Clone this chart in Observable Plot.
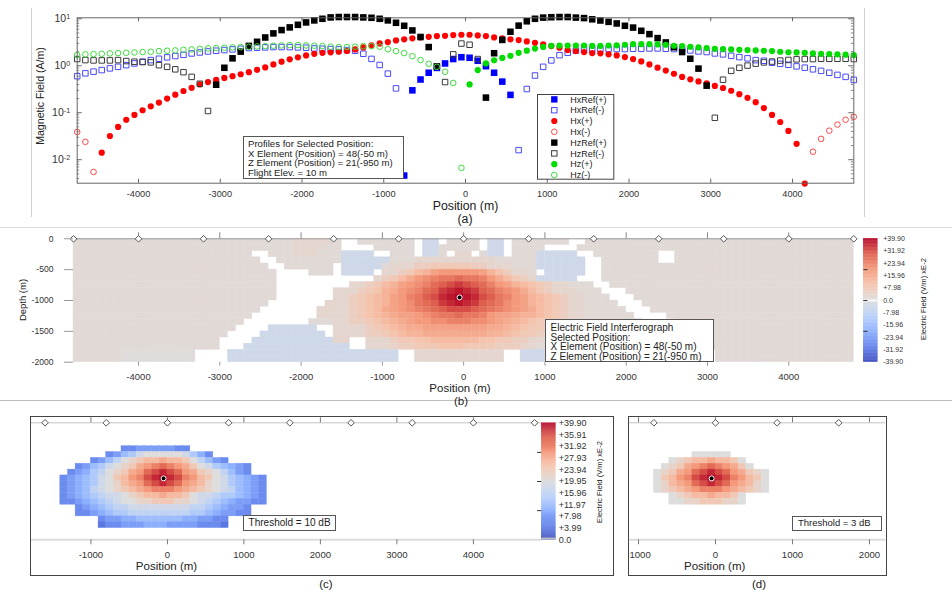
<!DOCTYPE html>
<html><head><meta charset="utf-8">
<script src="https://cdn.jsdelivr.net/npm/d3@7"></script>
<script src="https://cdn.jsdelivr.net/npm/@observablehq/plot@0.6"></script>
<style>
html,body{margin:0;padding:0;background:#fff;}
#page{position:relative;width:952px;height:594px;overflow:hidden;background:#fff;font-family:"Liberation Sans",Arial,Helvetica,sans-serif;color:#222;}
.t{position:absolute;white-space:nowrap;line-height:1;}
.box{position:absolute;box-sizing:border-box;background:#fff;border:1px solid #555;white-space:nowrap;color:#222;}
</style></head>
<body><div id="page"></div>
<script>
// ---------------- DATA ----------------
const positions = [-4750,-4650,-4550,-4450,-4350,-4250,-4150,-4050,-3950,-3850,-3750,-3650,-3550,-3450,-3350,-3250,-3150,-3050,-2950,-2850,-2750,-2650,-2550,-2450,-2350,-2250,-2150,-2050,-1950,-1850,-1750,-1650,-1550,-1450,-1350,-1250,-1150,-1050,-950,-850,-750,-650,-550,-450,-350,-250,-150,-50,50,150,250,350,450,550,650,750,850,950,1050,1150,1250,1350,1450,1550,1650,1750,1850,1950,2050,2150,2250,2350,2450,2550,2650,2750,2850,2950,3050,3150,3250,3350,3450,3550,3650,3750,3850,3950,4050,4150,4250,4350,4450,4550,4650,4750];

// signed values: negative => "(-)" open marker, positive => "(+)" filled marker
const hxRef = [-0.60,-0.69,-0.75,-0.81,-0.88,-0.95,-1.03,-1.12,-1.22,-1.32,
 -1.41,-1.51,-1.61,-1.71,-1.83,-1.92,-2.02,-2.09,-2.16,-2.23,
 -2.30,-2.38,-2.42,-2.46,-2.50,-2.50,-2.50,-2.46,-2.42,-2.34,
 -2.30,-2.27,-2.23,-2.16,-2.09,-1.80,-1.40,-1.04,-0.68,-0.33,
 0.0046,0.30,0.51,0.71,0.90,1.12,1.39,1.52,1.48,1.28,
 0.98,0.71,0.46,0.24,-0.016,-0.32,-0.62,-0.95,-1.30,-1.68,
 -1.89,-2.10,-2.20,-2.23,-2.27,-2.27,-2.27,-2.27,-2.30,-2.30,
 -2.34,-2.34,-2.30,-2.27,-2.23,-2.12,-2.02,-1.96,-1.83,-1.75,
 -1.63,-1.53,-1.44,-1.32,-1.28,-1.16,-1.10,-1.05,-0.97,-0.91,
 -0.84,-0.78,-0.71,-0.64,-0.58,-0.50];
const hx = [-0.039,-0.024,-0.0055,0.0141,0.032,0.050,0.071,0.090,0.113,0.137,
 0.165,0.20,0.242,0.29,0.34,0.40,0.45,0.50,0.55,0.60,
 0.66,0.73,0.82,0.92,1.07,1.22,1.37,1.51,1.66,1.80,
 1.89,1.93,1.99,2.06,2.23,2.46,2.71,2.99,3.19,3.47,
 3.65,3.83,4.02,4.14,4.28,4.35,4.50,4.57,4.57,4.43,
 4.28,4.02,3.83,3.65,3.52,3.30,3.08,2.85,2.62,2.42,
 2.16,2.05,1.96,1.86,1.84,1.75,1.66,1.53,1.39,1.24,
 1.07,0.91,0.79,0.676,0.58,0.515,0.465,0.42,0.372,0.336,
 0.294,0.248,0.208,0.168,0.126,0.090,0.0635,0.041,0.0218,0.0031,
 -0.0148,-0.0278,-0.0415,-0.056,-0.071,-0.082];
const hzRef = [-1.39,-1.32,-1.30,-1.30,-1.30,-1.32,-1.26,-1.22,-1.20,-1.18,
 -1.03,-0.95,-0.84,-0.73,-0.58,-0.414,-0.109,0.395,0.906,1.44,
 2.0,2.65,3.24,4.0,4.89,5.75,6.56,7.45,8.37,9.25,
 10.0,10.7,10.9,10.9,10.9,10.7,10.5,10.0,9.25,8.22,
 7.1,5.66,4.1,2.5,0.97,-0.45,-1.75,-2.97,-2.8,-1.39,
 0.21,1.85,3.55,5.3,7.15,8.85,10.0,10.6,10.8,10.9,
 10.9,10.6,10.35,9.75,9.2,8.6,7.96,7.1,6.5,5.55,
 4.72,3.88,3.14,2.48,1.96,1.41,0.87,0.377,-0.078,-0.505,
 -0.78,-0.906,-1.01,-1.11,-1.18,-1.23,-1.29,-1.33,-1.37,-1.39,
 -1.39,-1.41,-1.41,-1.41,-1.41,-1.39];
const hz = [-1.69,-1.75,-1.77,-1.80,-1.83,-1.86,-1.89,-1.92,-1.96,-1.99,
 -2.05,-2.09,-2.12,-2.19,-2.23,-2.30,-2.34,-2.38,-2.42,-2.46,
 -2.50,-2.54,-2.58,-2.62,-2.67,-2.71,-2.76,-2.76,-2.71,-2.67,
 -2.62,-2.54,-2.50,-2.50,-2.54,-2.62,-2.62,-2.54,-2.25,-2.05,
 -1.86,-1.60,-1.32,-1.10,-0.95,-0.745,-0.43,-0.0067,0.40,0.81,
 1.12,1.31,1.47,1.63,1.89,2.10,2.32,2.52,2.67,2.69,
 2.70,2.70,2.70,2.65,2.65,2.70,2.72,2.80,2.88,2.88,
 2.88,2.85,2.80,2.67,2.62,2.54,2.46,2.38,2.30,2.27,
 2.23,2.19,2.16,2.12,2.09,2.05,1.99,1.94,1.92,1.89,
 1.83,1.80,1.77,1.75,1.72,1.69];

const xTicks = [-4000,-3000,-2000,-1000,0,1000,2000,3000,4000];
const majorA = [0.01,0.1,1,10];
const stations = [-4800,-4000,-3200,-2400,-1600,-800,0,800,1600,2400,3200,4000,4800];
const depthTicks = [0,-500,-1000,-1500,-2000];
const depthCenters = [-50,-150,-250,-350,-450,-550,-650,-750,-850,-950,-1050,-1150,-1250,-1350,-1450,-1550,-1650,-1750,-1850,-1950];

// field grid (columns = positions, rows = depthCenters), one code per cell
const levelValue = {".":null,"B":-4,"z":0.6,"a":1.5,"y":3,"b":4,"c":6,"d":8,"e":10,"f":12,"g":14,"h":16,"i":18,"j":20,"k":22,"l":24,"m":26,"n":28,"o":30,"p":32,"q":34,"r":36,"s":38,"t":39.9};
const A12 = "aaaaaaaaaaaa";
const fieldRows = [
 [A12, A12, "aaayyyyya..a", "aaaaaa.BB.aa", "aa.BB.aaaaaa", "a..aaaaaaaaa", A12, A12],
 [A12, A12, "aaayyyyaa...", ".aaaaa.BBaaa", "aa.BB.aaaa..", "..aaaaaaaaaa", A12, A12],
 [A12, "aaaaaaaaaa..", "aaayyyaaaBBB", "B..aaa.BBa.y", "y.aBB.aaaBBB", "BB..aaaaaaaa", "..aaaaaaaaaa", A12],
 [A12, "aaaaaaaaaaa.", ".aaaaaaaaBBB", "BBBaaayyyyyy", "yyyyaaaaaBBB", "BBB..aaaaaaa", "..aaaaaaaaaa", A12],
 [A12, A12, "..aaaaaa.BBB", "BBayyyccdddd", "dccyyyaaaBBB", "BBB..aaaaaaa", A12, A12],
 [A12, A12, "a....aaa.BBB", "B.yycdfgijjj", "jjigecyya.BB", "BBB..aaaaaaa", A12, A12],
 [A12, A12, "a...........", ".ycdfhjklmmn", "mmljhfdcyBBB", "BB...aaaaaaa", A12, A12],
 [A12, A12, "a.........yy", "cdfgijklnopq", "ponljigfedcy", "yaaa..aaaaaa", A12, A12],
 [A12, A12, "a.......yyyc", "deghjklnoqrs", "rqonlkjhfdcy", "yyaaa...aaaa", A12, A12],
 [A12, A12, "a.......yycd", "efgijlmoprst", "srpomljigfed", "cyyaaa...aaa", A12, A12],
 [A12, A12, ".......yyycd", "efgijkmnoqrs", "rqonmkjigfed", "cyyaaaa...aa", A12, A12],
 [A12, "aaaaaaaaaaa.", "......yyyycd", "efhijklmnopp", "ponmlkjihfed", "cyyaaaaa...a", A12, A12],
 [A12, "aaaaaaaaaa..", "......yyyycd", "efghiijklmmn", "mmljiihggfed", "cyyaaaaaa...", ".aaaaaaaaaaa", A12],
 [A12, "aaaaaaaaa...", ".....aaayycc", "defghijjkkll", "lkkjihgfeddc", "cyyaaaaaaa..", "..aaaaaaaaaa", A12],
 [A12, "aaaaaaaa....", "BBBBBB..yyyy", "cdefghhiiiii", "iiihhgfeddcy", "yyaaaaaaaaaa", A12, A12],
 [A12, "aaaaaaa....B", "BBBBBBB.yyyy", "ccdefgghhhhh", "hhhggfeddccy", "yaaaaaaaaaaa", A12, A12],
 [A12, "aaaaaa....BB", "BBBBBBBByy..", "yyycddeeffff", "ffeeddccyyaa", A12, A12, A12],
 [A12, "aaaaaa...BBB", "BBBBBBBBBB..", "yyybccdddeee", "ddddcccbyaaa", A12, A12, A12],
 ["aaaaaazzzzzz", "zzz....BBBBB", "BBBBBBBBBBBB", "BBBB..yyyyyy", "yyyyy..BBBaa", A12, "aaaaaa.aaaaa", A12],
 ["aaaaaazzzzzz", "zzz....BBBBB", "BBBBBBBBBBBB", "BBBB..yyyyyy", "yyyyy..BBBaa", A12, "aaaaaa.aaaaa", A12]
].map(g => g.join(""));

const selected = {x: -50, z: -950};
const thresholdC = 3.99;   // 10 dB
const thresholdD = 19.95;  // 3 dB
const cbTicksB = [39.9,31.92,23.94,15.96,7.98,0,-7.98,-15.96,-23.94,-31.92,-39.9];
const cbLabelsB = ["+39.90","+31.92","+23.94","+15.96","+7.98","0.0","-7.98","-15.96","-23.94","-31.92","-39.90"];
const cbTicksC = [39.9,35.91,31.92,27.93,23.94,19.95,15.96,11.97,7.98,3.99,0];
const cbLabelsC = ["+39.90","+35.91","+31.92","+27.93","+23.94","+19.95","+15.96","+11.97","+7.98","+3.99","0.0"];
const xTicksC = [-1000,0,1000,2000,3000,4000];
const stationsC = [-1600,-800,0,800,1600,2400,3200,4000,4800];
const xTicksD = [-1000,0,1000,2000];
const stationsD = [-800,0,800,1600];
const coolwarm = ["#3b4cc0","#6282ea","#8db0fe","#b8d0f9","#dddddd","#f5c4ad","#f49a7b","#de604d","#b40426"];
const cwDomainB = [-39.9,-29.925,-19.95,-9.975,0,9.975,19.95,29.925,39.9];
const cwDomainC = [0,4.9875,9.975,14.9625,19.95,24.9375,29.925,34.9125,39.9];

// ---------------- HELPERS ----------------
const FONT = '"Liberation Sans", Arial, Helvetica, sans-serif';
const W = 952;
const page = document.getElementById("page");
function addSvg(svg, left, top, overflow = "visible") {
  svg.style.position = "absolute";
  svg.style.left = left + "px";
  svg.style.top = top + "px";
  svg.style.overflow = overflow;
  svg.style.background = "transparent";
  svg.style.maxWidth = "none";
  page.appendChild(svg);
  return svg;
}
function text(str, cx, cy, size, rotate = 0) {
  const d = document.createElement("div");
  d.className = "t";
  d.textContent = str;
  d.style.left = cx + "px"; d.style.top = cy + "px";
  d.style.fontSize = size + "px";
  d.style.transform = "translate(-50%,-50%)" + (rotate ? ` rotate(${rotate}deg)` : "");
  page.appendChild(d);
  return d;
}
function rectDiv(x, y, w, h, css) {
  const d = document.createElement("div");
  Object.assign(d.style, {position: "absolute", left: x + "px", top: y + "px", width: w + "px", height: h + "px", boxSizing: "border-box"}, css);
  page.appendChild(d);
  return d;
}
function noteBox(x, y, w, h, lines, size, lh, padL, padT) {
  const d = rectDiv(x, y, w, h, {});
  d.className = "box";
  d.style.fontSize = size + "px";
  d.style.lineHeight = lh + "px";
  d.style.padding = `${padT}px 0 0 ${padL}px`;
  d.innerHTML = lines.map(s => `<div>${s}</div>`).join("");
  return d;
}
const baseStyle = {fontFamily: FONT, fontSize: "9px", color: "#333", background: "transparent"};

// ---------------- PANEL (a) ----------------
const PA = {left: 76.7, right: 853.3, top: 17.3, bottom: 182.7, h: 228};
const yDomA = [Math.pow(10, -2.5), 10.5];
const pxPerDec = (PA.bottom - PA.top) / Math.log10(yDomA[1] / yDomA[0]);
const mPerPxA = 9500 / (PA.right - PA.left);
const fac = px => Math.pow(10, px / pxPerDec);
const minorA = [];
for (let k = -3; k <= 1; k++) for (let m = 2; m <= 9; m++) { const v = m * Math.pow(10, k); if (v > yDomA[0] && v < yDomA[1]) minorA.push(v); }

const seriesDefs = [
  {vals: hxRef, sym: "square", fill: "#0000ff", open: "#4848ff"},
  {vals: hx, sym: "circle", fill: "#ff0000", open: "#ff4a4a"},
  {vals: hzRef, sym: "square", fill: "#000000", open: "#3a3a3a"},
  {vals: hz, sym: "circle", fill: "#00dc00", open: "#3ddc3d"}
];
const dotMarks = [];
for (const s of seriesDefs) {
  const pts = positions.map((x, i) => ({x, v: Math.abs(s.vals[i]), plus: s.vals[i] > 0}));
  const sq = s.sym === "square";
  dotMarks.push(Plot.dot(pts.filter(d => d.plus), {x: "x", y: "v", symbol: s.sym, r: sq ? 3.7 : 3.1, fill: s.fill, stroke: "none"}));
  dotMarks.push(Plot.dot(pts.filter(d => !d.plus), {x: "x", y: "v", symbol: s.sym, r: sq ? 3.1 : 2.8, fill: "none", stroke: s.open, strokeWidth: 1}));
}
const svgA = Plot.plot({
  width: W, height: PA.h,
  marginLeft: PA.left, marginRight: W - PA.right, marginTop: PA.top, marginBottom: PA.h - PA.bottom,
  x: {domain: [-4750, 4750], label: null},
  y: {type: "log", domain: yDomA, label: null},
  style: baseStyle,
  marks: [
    Plot.ruleX(xTicks, {y1: yDomA[0], y2: yDomA[0] * fac(4), stroke: "#666"}),
    Plot.ruleX(xTicks, {y1: yDomA[1] / fac(4), y2: yDomA[1], stroke: "#666"}),
    Plot.ruleY(majorA, {x1: -4750, x2: -4750 + 5 * mPerPxA, stroke: "#666"}),
    Plot.ruleY(majorA, {x1: 4750 - 5 * mPerPxA, x2: 4750, stroke: "#666"}),
    Plot.ruleY(minorA, {x1: -4750, x2: -4750 + 2.5 * mPerPxA, stroke: "#888"}),
    Plot.ruleY(minorA, {x1: 4750 - 2.5 * mPerPxA, x2: 4750, stroke: "#888"}),
    ...dotMarks,
    Plot.frame({stroke: "#666"}),
    Plot.axisX({ticks: xTicks, tickSize: 0, tickPadding: 7, tickFormat: d => String(d), fontSize: 9.2, label: null}),
    Plot.axisY({ticks: majorA, tickSize: 0, tickPadding: 7, tickFormat: d => "10^" + Math.round(Math.log10(d)), fontSize: 10.5, label: null})
  ]
});
addSvg(svgA, 0, 0);
d3.select(svgA).selectAll('[aria-label="y-axis tick label"] text').each(function() {
  const m = this.textContent.match(/^10\^(-?\d+)$/);
  if (m) {
    this.textContent = "10";
    const ts = document.createElementNS("http://www.w3.org/2000/svg", "tspan");
    ts.setAttribute("dy", "-0.45em");
    ts.setAttribute("font-size", "7.2");
    ts.textContent = m[1];
    this.appendChild(ts);
  }
});

// legend (a)
const legendItems = [
  {label: "HxRef(+)", sym: "square", fill: "#0000ff"},
  {label: "HxRef(-)", sym: "square", stroke: "#4848ff"},
  {label: "Hx(+)", sym: "circle", fill: "#ff0000"},
  {label: "Hx(-)", sym: "circle", stroke: "#ff4a4a"},
  {label: "HzRef(+)", sym: "square", fill: "#000000"},
  {label: "HzRef(-)", sym: "square", stroke: "#3a3a3a"},
  {label: "Hz(+)", sym: "circle", fill: "#00dc00"},
  {label: "Hz(-)", sym: "circle", stroke: "#3ddc3d"}
];
(function() {
  const L = {x: 536.7, y: 94.3, w: 77.3, h: 85.7};
  const ns = "http://www.w3.org/2000/svg";
  const svg = document.createElementNS(ns, "svg");
  svg.setAttribute("width", L.w); svg.setAttribute("height", L.h);
  let html = `<rect x="0.5" y="0.5" width="${L.w - 1}" height="${L.h - 1}" fill="white" stroke="#444"/>`;
  legendItems.forEach((it, k) => {
    const cy = 99.7 + 10.8 * k - L.y, cx = 554 - L.x;
    const fill = it.fill || "none", stroke = it.stroke || "none";
    if (it.sym === "square") {
      const s = it.fill ? 6.4 : 5.4;
      html += `<rect x="${cx - s / 2}" y="${cy - s / 2}" width="${s}" height="${s}" fill="${fill}" stroke="${stroke}"/>`;
    } else {
      html += `<circle cx="${cx}" cy="${cy}" r="${it.fill ? 3.1 : 2.8}" fill="${fill}" stroke="${stroke}"/>`;
    }
    html += `<text x="${570 - L.x}" y="${cy}" dy="0.35em" font-size="9" fill="#222" font-family='${FONT}'>${it.label}</text>`;
  });
  svg.innerHTML = html;
  addSvg(svg, L.x, L.y);
})();

noteBox(242.7, 136, 161.3, 43.3, ["Profiles for Selected Position:", "X Element (Position) = 48(-50 m)", "Z Element (Position) = 21(-950 m)", "Flight Elev. = 10 m"], 9.6, 9.5, 4.3, 2.4);
text("Magnetic Field (A/m)", 40, 96, 10.6, -90);
text("Position (m)", 465.5, 205.5, 12.3);
text("(a)", 465, 219, 12.3);
rectDiv(31.2, 8, 1, 209, {background: "#cfcfcf"});
rectDiv(863.8, 8, 1, 209, {background: "#cfcfcf"});
rectDiv(0, 227.2, 952, 1, {background: "#dedede"});

// ---------------- PANEL (b) ----------------
const cells = [];
fieldRows.forEach((row, r) => {
  for (let c = 0; c < positions.length && c < row.length; c++) {
    const v = levelValue[row[c]];
    if (v !== null && v !== undefined) cells.push({x: positions[c], z: depthCenters[r], v});
  }
});
const PB = {left: 73, right: 853.3, top: 238.3, bottom: 361.7, svgTop: 228, h: 172};
const mPerPxBy = 2000 / (PB.bottom - PB.top);
const svgB = Plot.plot({
  width: W, height: PB.h,
  marginLeft: PB.left, marginRight: W - PB.right, marginTop: PB.top - PB.svgTop, marginBottom: PB.svgTop + PB.h - PB.bottom,
  x: {domain: [-4800, 4800], label: null},
  y: {domain: [-2000, 0], label: null},
  color: {type: "linear", domain: cwDomainB, range: coolwarm},
  style: baseStyle,
  marks: [
    Plot.rect(cells, {x1: d => d.x - 50, x2: d => d.x + 50, y1: d => d.z - 50, y2: d => d.z + 50, fill: "v", stroke: "v", strokeWidth: 0.4}),
    Plot.ruleY([0], {x1: -4800, x2: 4800, stroke: "#9a9a9a"}),
    Plot.ruleX(xTicks, {y1: 0, y2: 6 * mPerPxBy, stroke: "#888"}),
    Plot.dot(stations, {x: d => d, y: 0, symbol: "diamond2", r: 3, stroke: "#555", fill: "white", strokeWidth: 1}),
    Plot.dot([selected], {x: "x", y: "z", r: 2.5, fill: "black", stroke: "white", strokeWidth: 1}),
    Plot.axisX({anchor: "bottom", ticks: xTicks, tickSize: 4, tickPadding: 7, tickFormat: d => String(d), fontSize: 9.5, stroke: "#999", label: null}),
    Plot.axisY({anchor: "left", ticks: depthTicks, tickSize: 9, tickPadding: 11, tickFormat: d => String(d), fontSize: 8.6, stroke: "#999", label: null})
  ]
});
addSvg(svgB, 0, PB.svgTop);

// colorbar (b)
const stepB = 79.8 / 160;
const rampB = d3.range(-39.9, 39.9 - 1e-9, stepB);
const svgCbB = Plot.plot({
  width: 97, height: PB.h, marginLeft: 8.3, marginRight: 74.7, marginTop: PB.top - PB.svgTop, marginBottom: PB.svgTop + PB.h - PB.bottom,
  x: {domain: [0, 1], axis: null}, y: {domain: [-39.9, 39.9], axis: null},
  color: {type: "linear", domain: cwDomainB, range: coolwarm},
  style: baseStyle,
  marks: [
    Plot.rect(rampB, {x1: 0, x2: 1, y1: d => d, y2: d => d + stepB, fill: d => d + stepB / 2, stroke: d => d + stepB / 2, strokeWidth: 0.3}),
    Plot.ruleY([0], {x1: 0, x2: 1, stroke: "white", strokeWidth: 1.8}),
    Plot.ruleY([-19.95, 0, 19.95], {x1: 0, x2: 0.3, stroke: "#333"}),
    Plot.text(cbTicksB, {x: 1, y: d => d, text: (d, i) => cbLabelsB[i], textAnchor: "start", dx: 5.4, fontSize: 7, fill: "#333"})
  ]
});
addSvg(svgCbB, 855, PB.svgTop);
text("Electric Field (V/m) xE-2", 924, 299, 7.6, -90);
text("Depth (m)", 22.5, 299.5, 9.5, -90);
noteBox(545, 319.3, 169, 43, ["Electric Field Interferograph", "Selected Position:", "X Element (Position) = 48(-50 m)", "Z Element (Position) = 21(-950 m)"], 10, 9.7, 4.6, 2.5);
text("Position (m)", 460, 389.3, 11.5);
rectDiv(0, 400.2, 952, 1, {background: "#bdbdbd"});
text("(b)", 461, 402.2, 11.5);

// ---------------- PANEL (c) ----------------
const pxPerMC = 0.0765, zeroC = 166.9;
const PC = {svgLeft: 31, svgRight: 541.3, svgTop: 410, h: 160, top: 422.3, bottom: 539.3};
const mPerPxCy = 2000 / (PC.bottom - PC.top);
const cellsC = cells.filter(d => d.v >= thresholdC);
const svgC = Plot.plot({
  width: PC.svgRight - PC.svgLeft, height: PC.h,
  marginLeft: 0, marginRight: 0, marginTop: PC.top - PC.svgTop, marginBottom: PC.svgTop + PC.h - PC.bottom,
  x: {domain: [(PC.svgLeft - zeroC) / pxPerMC, (PC.svgRight - zeroC) / pxPerMC], label: null},
  y: {domain: [-2000, 0], axis: null},
  color: {type: "linear", domain: cwDomainC, range: coolwarm},
  style: baseStyle,
  marks: [
    Plot.ruleY([-2000], {stroke: "#dcdcdc", strokeWidth: 2}),
    Plot.rect(cellsC, {x1: d => d.x - 50, x2: d => d.x + 50, y1: d => d.z - 50, y2: d => d.z + 50, fill: "v", stroke: "v", strokeWidth: 0.4}),
    Plot.ruleY([0], {stroke: "#c4c4c4"}),
    Plot.ruleX(xTicksC, {y1: 0, y2: 5 * mPerPxCy, stroke: "#777"}),
    Plot.dot(stationsC, {x: d => d, y: 0, symbol: "diamond2", r: 3, stroke: "#555", fill: "white", strokeWidth: 1}),
    Plot.dot([selected], {x: "x", y: "z", r: 2.5, fill: "black", stroke: "white", strokeWidth: 1}),
    Plot.axisX({anchor: "bottom", ticks: xTicksC, tickSize: 5, tickPadding: 6, tickFormat: d => String(d), fontSize: 9.6, stroke: "#777", label: null})
  ]
});
addSvg(svgC, PC.svgLeft, PC.svgTop);

const stepC = 39.9 / 120;
const rampC = d3.range(0, 39.9 - 1e-9, stepC);
const svgCbC = Plot.plot({
  width: 80, height: PC.h, marginLeft: 8.3, marginRight: 80 - 8.3 - 14.1, marginTop: 422.7 - PC.svgTop, marginBottom: PC.svgTop + PC.h - PC.bottom,
  x: {domain: [0, 1], axis: null}, y: {domain: [0, 39.9], axis: null},
  color: {type: "linear", domain: cwDomainC, range: coolwarm},
  style: baseStyle,
  marks: [
    Plot.rect(rampC, {x1: 0, x2: 1, y1: d => d, y2: d => d + stepC, fill: d => d + stepC / 2, stroke: d => d + stepC / 2, strokeWidth: 0.3}),
    Plot.rect([0], {x1: 0, x2: 1, y1: 0, y2: 0.6, fill: "#bdbdbd"}),
    Plot.ruleY([9.975, 19.95, 29.925], {x1: -0.3, x2: 0, stroke: "#333"}),
    Plot.text(cbTicksC, {x: 1, y: d => d, text: (d, i) => cbLabelsC[i], textAnchor: "start", dx: 2.8, fontSize: 9, fill: "#333"})
  ]
});
addSvg(svgCbC, 533, PC.svgTop);
text("Electric Field (V/m) xE-2", 600, 481.7, 7.6, -90);
noteBox(243, 515, 93, 15.7, ["Threshold = 10 dB"], 10, 13.7, 4.6, 0);
text("Position (m)", 166.5, 566.7, 11.5);
text("(c)", 326, 585, 11.5);
rectDiv(30, 416.3, 583.5, 160, {border: "1.5px solid #444"});

// ---------------- PANEL (d) ----------------
const pxPerMD = 0.077, zeroD = 715.3;
const PD = {svgLeft: 629.3, svgRight: 885.7};
const cellsD = cells.filter(d => d.v >= thresholdD);
const svgD = Plot.plot({
  width: PD.svgRight - PD.svgLeft, height: PC.h,
  marginLeft: 0, marginRight: 0, marginTop: PC.top - PC.svgTop, marginBottom: PC.svgTop + PC.h - PC.bottom,
  x: {domain: [(PD.svgLeft - zeroD) / pxPerMD, (PD.svgRight - zeroD) / pxPerMD], label: null},
  y: {domain: [-2000, 0], axis: null},
  color: {type: "linear", domain: cwDomainC, range: coolwarm},
  style: baseStyle,
  marks: [
    Plot.ruleY([-2000], {stroke: "#dcdcdc", strokeWidth: 2}),
    Plot.rect(cellsD, {x1: d => d.x - 50, x2: d => d.x + 50, y1: d => d.z - 50, y2: d => d.z + 50, fill: "v", stroke: "v", strokeWidth: 0.4}),
    Plot.ruleY([0], {stroke: "#c4c4c4"}),
    Plot.ruleX(xTicksD, {y1: 0, y2: 5 * mPerPxCy, stroke: "#777"}),
    Plot.dot(stationsD, {x: d => d, y: 0, symbol: "diamond2", r: 3, stroke: "#555", fill: "white", strokeWidth: 1}),
    Plot.dot([selected], {x: "x", y: "z", r: 2.5, fill: "black", stroke: "white", strokeWidth: 1}),
    Plot.axisX({anchor: "bottom", ticks: xTicksD, tickSize: 5, tickPadding: 6, tickFormat: d => String(d), fontSize: 9.6, stroke: "#777", label: null})
  ]
});
addSvg(svgD, PD.svgLeft, PC.svgTop, "hidden");
noteBox(791.7, 516, 90, 14.7, ["Threshold = 3 dB"], 9.5, 12.7, 5.3, 0);
text("Position (m)", 714.7, 566.7, 11.5);
text("(d)", 759, 585, 11.5);
rectDiv(628, 416.3, 259, 160, {border: "1.5px solid #444"});
</script></body></html>
